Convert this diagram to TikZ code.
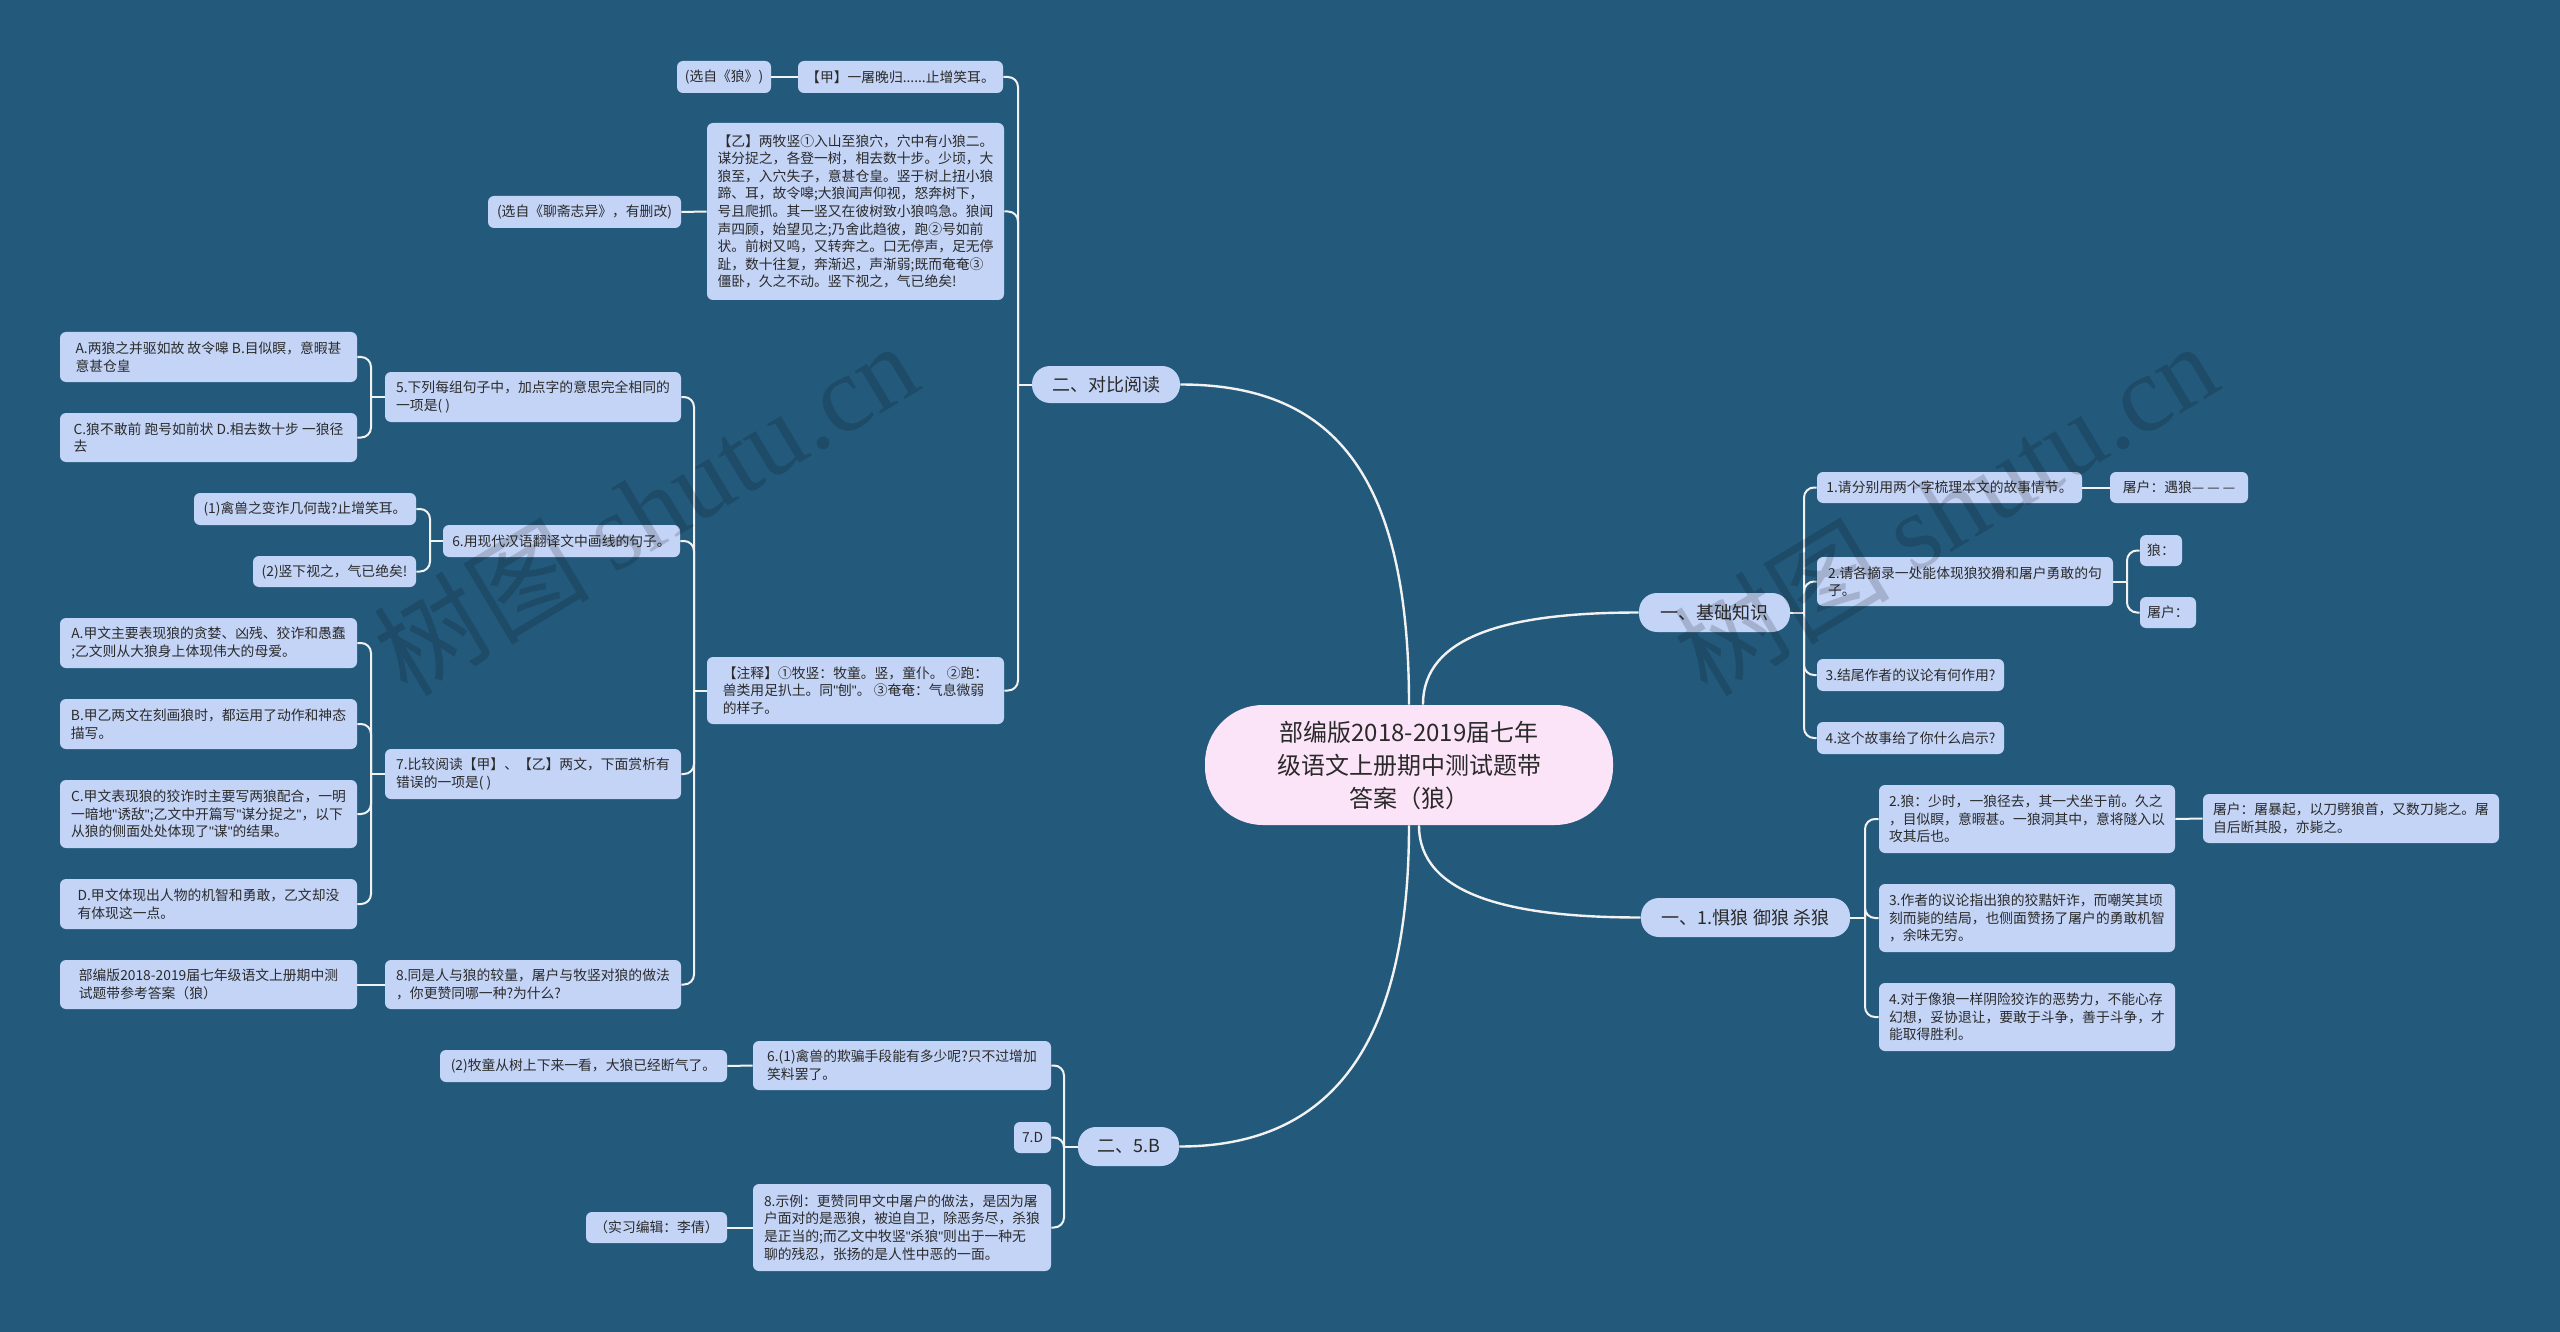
\documentclass[tikz,border=0pt]{standalone}
\usepackage{fontspec}
\setmainfont{Noto Sans CJK SC}
\newfontfamily\wmserif{Liberation Serif}
\newfontfamily\qtfont{Liberation Sans}
\newcommand\qmark{{\qtfont"}}
\definecolor{bg}{HTML}{235A7C}
\definecolor{leaffill}{HTML}{C3D4F7}
\definecolor{rootfill}{HTML}{FCE4F8}
\definecolor{txt}{HTML}{2A2A2A}
\definecolor{linec}{HTML}{F2F2F2}
\tikzset{
  leaf/.style={fill=leaffill, rounded corners=3pt, inner xsep=2.5pt, inner ysep=2pt, align=left, text=txt, font=\fontsize{6.9}{8.8}\selectfont},
  pill/.style={fill=leaffill, rounded corners=9pt, inner sep=2pt, align=center, text=txt, font=\fontsize{9}{11}\selectfont},
  rootnode/.style={fill=rootfill, rounded corners=29pt, inner sep=2pt, align=center, text=txt, font=\fontsize{12}{16.5}\selectfont},
  conn/.style={draw=linec, line width=1pt},
  mainconn/.style={draw=linec, line width=1.2pt},
  wm/.style={text=black, opacity=0.16, font=\fontsize{54}{60}\selectfont, rotate=31}
}
\newcommand\leafbox[7][leaf]{\node[#1, minimum width={(#5-#3)*0.5pt}, minimum height={(#6-#4)*0.5pt}] (#2) at ({(#3+#5)/2},{(#4+#6)/2}) {#7};}
\newcommand\lconn[3]{\draw[conn] (#1.west) -- (#3 |- #1.west);\draw[conn, rounded corners=5pt] (#3 |- #1.west) -- (#3 |- #2.east) -- (#2.east);}
\newcommand\rconn[3]{\draw[conn] (#1.east) -- (#3 |- #1.east);\draw[conn, rounded corners=5pt] (#3 |- #1.east) -- (#3 |- #2.west) -- (#2.west);}
\begin{document}
\begin{tikzpicture}[x=0.5pt, y=-0.5pt]
\fill[bg] (0,0) rectangle (2560,1332);
\useasboundingbox (0,0) rectangle (2560,1332);

% root and main branches
\leafbox[rootnode]{root}{1205}{705}{1613}{825}{部编版2018-2019届七年\\级语文上册期中测试题带\\答案（狼）}
\leafbox[pill]{b1}{1032}{366}{1180}{403}{二、对比阅读}
\leafbox[pill]{b2}{1639}{593}{1790}{632}{一、基础知识}
\leafbox[pill]{b3}{1641}{898}{1850}{937}{一、1.惧狼 御狼 杀狼}
\leafbox[pill]{b4}{1078}{1127}{1179}{1166}{二、5.B}

% left upper part
\leafbox{jia}{798}{61}{1003}{93}{【甲】一屠晚归......止增笑耳。}
\leafbox{xzl}{677}{61}{771}{93}{(选自《狼》)}
\leafbox{yi}{707}{123}{1004}{300}{【乙】两牧竖①入山至狼穴，穴中有小狼二。\\谋分捉之，各登一树，相去数十步。少顷，大\\狼至，入穴失子，意甚仓皇。竖于树上扭小狼\\蹄、耳，故令嗥;大狼闻声仰视，怒奔树下，\\号且爬抓。其一竖又在彼树致小狼鸣急。狼闻\\声四顾，始望见之;乃舍此趋彼，跑②号如前\\状。前树又鸣，又转奔之。口无停声，足无停\\趾，数十往复，奔渐迟，声渐弱;既而奄奄③\\僵卧，久之不动。竖下视之，气已绝矣!}
\leafbox{xzlz}{488}{196}{681}{228}{(选自《聊斋志异》，有删改)}
\leafbox{zs}{707}{657}{1004}{724}{【注释】①牧竖：牧童。竖，童仆。 ②跑：\\兽类用足扒土。同\qmark 刨\qmark。 ③奄奄：气息微弱\\的样子。}
\leafbox{q5}{385}{372}{681}{422}{5.下列每组句子中，加点字的意思完全相同的\\一项是( )}
\leafbox{q5a}{60}{332}{357}{382}{A.两狼之并驱如故 故令嗥 B.目似瞑，意暇甚\\意甚仓皇}
\leafbox{q5c}{60}{413}{357}{462}{C.狼不敢前 跑号如前状 D.相去数十步 一狼径\\去}
\leafbox{q6}{443}{525}{680}{557}{6.用现代汉语翻译文中画线的句子。}
\leafbox{q6a}{194}{493}{416}{525}{(1)禽兽之变诈几何哉?止增笑耳。}
\leafbox{q6b}{253}{556}{416}{587}{(2)竖下视之，气已绝矣!}
\leafbox{q7}{385}{749}{681}{799}{7.比较阅读【甲】、【乙】两文，下面赏析有\\错误的一项是( )}
\leafbox{q7a}{60}{618}{357}{668}{A.甲文主要表现狼的贪婪、凶残、狡诈和愚蠢\\;乙文则从大狼身上体现伟大的母爱。}
\leafbox{q7b}{60}{699}{357}{749}{B.甲乙两文在刻画狼时，都运用了动作和神态\\描写。}
\leafbox{q7c}{60}{780}{357}{848}{C.甲文表现狼的狡诈时主要写两狼配合，一明\\一暗地\qmark 诱敌\qmark;乙文中开篇写\qmark 谋分捉之\qmark，以下\\从狼的侧面处处体现了\qmark 谋\qmark 的结果。}
\leafbox{q7d}{60}{879}{357}{929}{D.甲文体现出人物的机智和勇敢，乙文却没\\有体现这一点。}
\leafbox{q8}{385}{960}{681}{1009}{8.同是人与狼的较量，屠户与牧竖对狼的做法\\，你更赞同哪一种?为什么?}
\leafbox{q8a}{60}{960}{357}{1009}{部编版2018-2019届七年级语文上册期中测\\试题带参考答案（狼）}

% left lower part
\leafbox{a6}{753}{1041}{1051}{1090}{6.(1)禽兽的欺骗手段能有多少呢?只不过增加\\笑料罢了。}
\leafbox{a6b}{440}{1050}{727}{1082}{(2)牧童从树上下来一看，大狼已经断气了。}
\leafbox{a7}{1014}{1122}{1051}{1153}{7.D}
\leafbox{a8}{753}{1184}{1051}{1271}{8.示例：更赞同甲文中屠户的做法，是因为屠\\户面对的是恶狼，被迫自卫，除恶务尽，杀狼\\是正当的;而乙文中牧竖\qmark 杀狼\qmark 则出于一种无\\聊的残忍，张扬的是人性中恶的一面。}
\leafbox{a8b}{586}{1212}{727}{1243}{（实习编辑：李倩）}

% right upper part
\leafbox{r1}{1817}{472}{2082}{503}{1.请分别用两个字梳理本文的故事情节。}
\leafbox{r1a}{2110}{472}{2248}{503}{屠户：遇狼— — —}
\leafbox{r2}{1817}{557}{2113}{606}{2.请各摘录一处能体现狼狡猾和屠户勇敢的句\\子。}
\leafbox{r2a}{2140}{535}{2182}{566}{狼：}
\leafbox{r2b}{2140}{597}{2196}{628}{屠户：}
\leafbox{r3}{1817}{659}{2004}{691}{3.结尾作者的议论有何作用?}
\leafbox{r4}{1817}{722}{2004}{754}{4.这个故事给了你什么启示?}

% right lower part
\leafbox{s2}{1879}{785}{2175}{853}{2.狼：少时，一狼径去，其一犬坐于前。久之\\，目似瞑，意暇甚。一狼洞其中，意将隧入以\\攻其后也。}
\leafbox{s2a}{2203}{794}{2499}{843}{屠户：屠暴起，以刀劈狼首，又数刀毙之。屠\\自后断其股，亦毙之。}
\leafbox{s3}{1879}{884}{2175}{952}{3.作者的议论指出狼的狡黠奸诈，而嘲笑其顷\\刻而毙的结局，也侧面赞扬了屠户的勇敢机智\\，余味无穷。}
\leafbox{s4}{1879}{983}{2175}{1051}{4.对于像狼一样阴险狡诈的恶势力，不能心存\\幻想，妥协退让，要敢于斗争，善于斗争，才\\能取得胜利。}

% main curved connectors
\draw[mainconn] (root.north) .. controls (1409,470) and (1330,384.5) .. (b1.east);
\draw[mainconn] ([xshift=7pt]root.north) .. controls (1423,635) and (1510,612.5) .. (b2.west);
\draw[mainconn] ([xshift=5pt]root.south) .. controls (1419,895) and (1510,917.5) .. (b3.west);
\draw[mainconn] (root.south) .. controls (1409,1060) and (1320,1146.5) .. (b4.east);

% trunks
\coordinate (T1) at (1018,0);
\coordinate (T2) at (694,0);
\coordinate (T3) at (371,0);
\coordinate (T4) at (430,0);
\coordinate (T5) at (1064,0);
\coordinate (T6) at (1804,0);
\coordinate (T7) at (2127,0);
\coordinate (T8) at (1865,0);

\lconn{b1}{jia}{T1}
\lconn{b1}{yi}{T1}
\lconn{b1}{zs}{T1}
\draw[conn] (jia.west) -- (xzl.east);
\draw[conn] (yi.west) -- (xzlz.east);
\lconn{zs}{q5}{T2}
\lconn{zs}{q6}{T2}
\lconn{zs}{q7}{T2}
\lconn{zs}{q8}{T2}
\lconn{q5}{q5a}{T3}
\lconn{q5}{q5c}{T3}
\lconn{q6}{q6a}{T4}
\lconn{q6}{q6b}{T4}
\lconn{q7}{q7a}{T3}
\lconn{q7}{q7b}{T3}
\lconn{q7}{q7c}{T3}
\lconn{q7}{q7d}{T3}
\draw[conn] (q8.west) -- (q8a.east);

\lconn{b4}{a6}{T5}
\lconn{b4}{a7}{T5}
\lconn{b4}{a8}{T5}
\draw[conn] (a6.west) -- (a6b.east);
\draw[conn] (a8.west) -- (a8b.east);

\rconn{b2}{r1}{T6}
\rconn{b2}{r2}{T6}
\rconn{b2}{r3}{T6}
\rconn{b2}{r4}{T6}
\draw[conn] (r1.east) -- (r1a.west);
\rconn{r2}{r2a}{T7}
\rconn{r2}{r2b}{T7}

\rconn{b3}{s2}{T8}
\rconn{b3}{s3}{T8}
\rconn{b3}{s4}{T8}
\draw[conn] (s2.east) -- (s2a.west);

% watermarks
\node[wm] (wm1) at (645,508) {树图 {\wmserif shutu.cn}};
\node[wm] (wm2) at (1945,508) {树图 {\wmserif shutu.cn}};
\end{tikzpicture}
\end{document}
